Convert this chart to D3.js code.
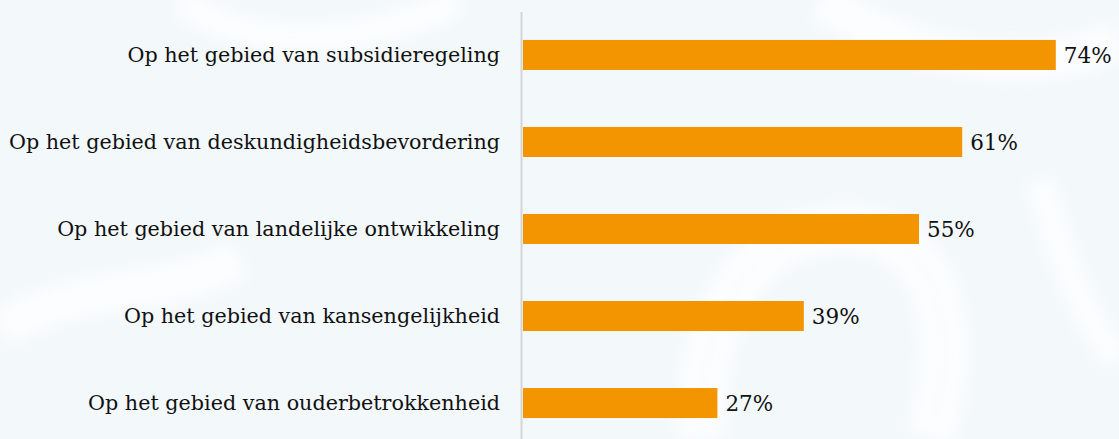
<!DOCTYPE html>
<html>
<head>
<meta charset="utf-8">
<script src="https://cdn.jsdelivr.net/npm/d3@7"></script>
<style>
  html, body { margin: 0; padding: 0; background: #f3f8fb; }
  svg { display: block; }
</style>
</head>
<body>
<svg id="chart" width="1119" height="439"></svg>
<script>
const categories = [
  "Op het gebied van subsidieregeling",
  "Op het gebied van deskundigheidsbevordering",
  "Op het gebied van landelijke ontwikkeling",
  "Op het gebied van kansengelijkheid",
  "Op het gebied van ouderbetrokkenheid"
];
const values = [74, 61, 55, 39, 27];
const valueLabels = ["74%", "61%", "55%", "39%", "27%"];

const W = 1119, H = 439;
const svg = d3.select("#chart");

// background watermark (faint light shapes)
const bg = svg.append("g");
bg.append("rect").attr("width", W).attr("height", H).attr("fill", "#f3f8fb");
const defs = svg.append("defs");
defs.append("filter").attr("id", "blur").append("feGaussianBlur").attr("stdDeviation", 8);
const wm = bg.append("g").attr("filter", "url(#blur)").attr("fill", "none").attr("stroke", "#ffffff").attr("opacity", 0.7);
wm.append("path").attr("d", "M820,0 C880,40 1000,90 1119,40").attr("stroke-width", 40);
wm.append("path").attr("d", "M700,439 C700,300 760,220 860,230 C940,240 960,330 930,439").attr("stroke-width", 50);
wm.append("path").attr("d", "M1040,180 C1060,260 1090,330 1119,360").attr("stroke-width", 30);
wm.append("path").attr("d", "M0,330 C80,280 160,300 240,260").attr("stroke-width", 40);
wm.append("path").attr("d", "M180,0 C260,60 380,40 460,0").attr("stroke-width", 30);

const x = d3.scaleLinear().domain([0, 100]).range([522, 1242]);
const y = d3.scaleBand().domain(categories).range([11.5, 446.5]).paddingInner(0.655).paddingOuter(0.327);

// axis line
svg.append("line")
  .attr("x1", 521.5).attr("x2", 521.5)
  .attr("y1", 12).attr("y2", H)
  .attr("stroke", "#d6d6d6").attr("stroke-width", 2);

svg.selectAll("rect.bar")
  .data(values)
  .join("rect")
  .attr("class", "bar")
  .attr("x", x(0) + 1)
  .attr("y", (d, i) => y(categories[i]))
  .attr("width", d => x(d) - x(0))
  .attr("height", y.bandwidth())
  .attr("fill", "#f39500");

const font = "'DejaVu Serif', Georgia, serif";
svg.selectAll("text.cat")
  .data(categories)
  .join("text")
  .attr("class", "cat")
  .attr("x", 500)
  .attr("y", d => y(d) + y.bandwidth() / 2)
  .attr("dy", "0.36em")
  .attr("text-anchor", "end")
  .attr("font-family", font)
  .attr("font-size", 20.7)
  .attr("fill", "#111")
  .text(d => d);

svg.selectAll("text.val")
  .data(values)
  .join("text")
  .attr("class", "val")
  .attr("x", d => x(d) + 9)
  .attr("y", (d, i) => y(categories[i]) + y.bandwidth() / 2)
  .attr("dy", "0.36em")
  .attr("font-family", font)
  .attr("font-size", 21.5)
  .attr("fill", "#111")
  .text((d, i) => valueLabels[i]);
</script>
</body>
</html>
